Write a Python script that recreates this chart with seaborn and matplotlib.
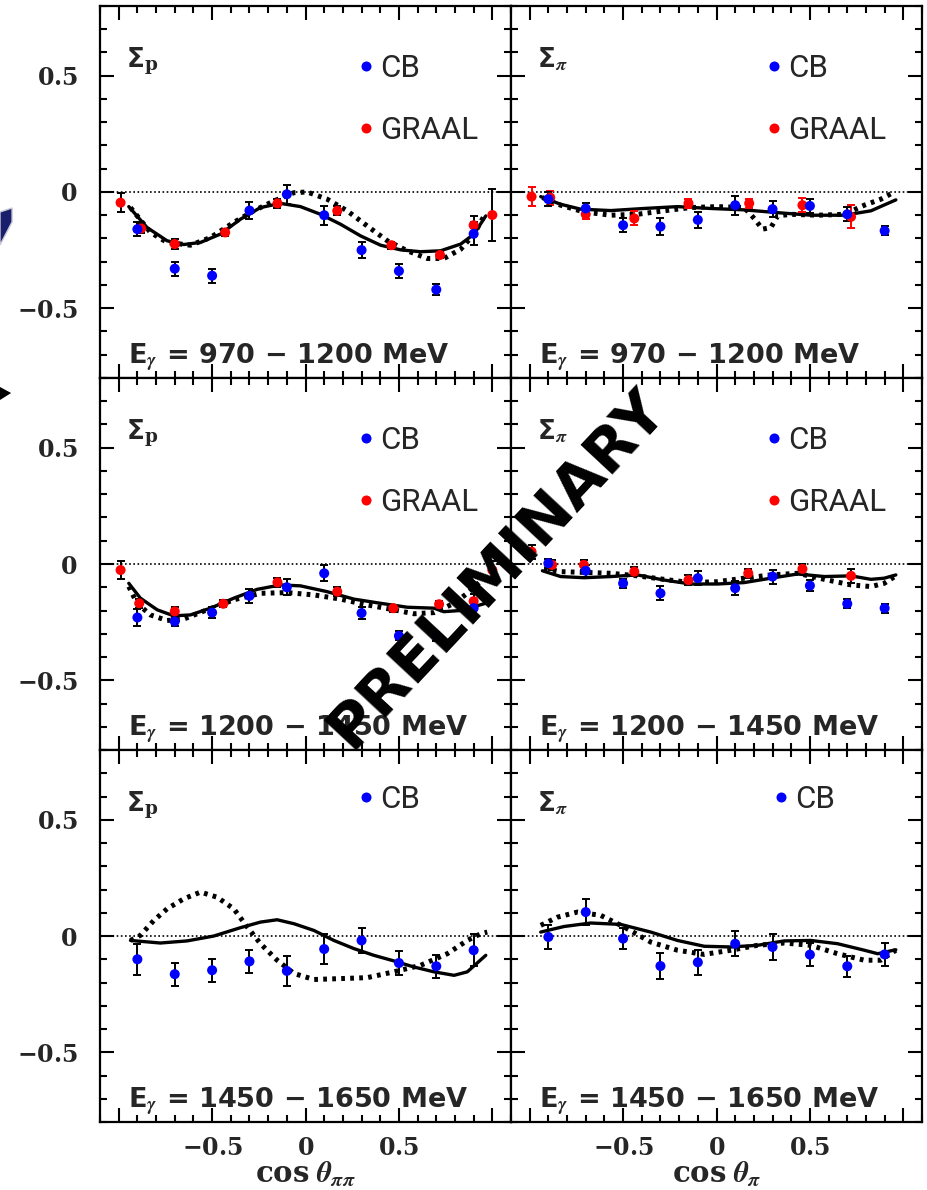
import numpy as np
import pandas as pd
import matplotlib
matplotlib.use("Agg")
import matplotlib.pyplot as plt
import seaborn as sns
from matplotlib.ticker import MultipleLocator, FuncFormatter
from matplotlib.patches import Polygon

# ---------------- data ----------------
cos_cb = [-0.9, -0.7, -0.5, -0.3, -0.1, 0.1, 0.3, 0.5, 0.7, 0.9]

# Row 1: E = 970 - 1200 MeV
sp1_cb = [-0.16, -0.33, -0.36, -0.08, -0.01, -0.10, -0.25, -0.34, -0.42, -0.18]
sp1_cb_err = [0.03, 0.03, 0.03, 0.035, 0.04, 0.04, 0.035, 0.03, 0.025, 0.05]
sp1_graal_x = [-0.99, -0.88, -0.70, -0.43, -0.15, 0.17, 0.46, 0.72, 0.90, 1.00]
sp1_graal = [-0.046, -0.157, -0.224, -0.174, -0.049, -0.081, -0.229, -0.271, -0.143, -0.099]
sp1_graal_err = [0.04, 0.02, 0.02, 0.015, 0.02, 0.02, 0.015, 0.015, 0.04, 0.11]
sp1_solid_x = [-0.946, -0.848, -0.741, -0.652, -0.562, -0.455, -0.348, -0.241, -0.134, -0.027,
               0.08, 0.188, 0.295, 0.402, 0.509, 0.616, 0.723, 0.831, 0.902, 0.965]
sp1_solid_y = [-0.063, -0.153, -0.21, -0.226, -0.217, -0.181, -0.117, -0.067, -0.049, -0.063,
               -0.096, -0.139, -0.189, -0.229, -0.249, -0.257, -0.253, -0.224, -0.181, -0.103]
sp1_dot_x = [-0.937, -0.83, -0.741, -0.616, -0.509, -0.384, -0.277, -0.17, -0.062, 0.009,
             0.116, 0.223, 0.33, 0.438, 0.545, 0.652, 0.741, 0.831, 0.902, 0.956]
sp1_dot_y = [-0.067, -0.174, -0.217, -0.229, -0.196, -0.131, -0.081, -0.039, -0.003, 0.0,
             -0.031, -0.081, -0.146, -0.21, -0.253, -0.286, -0.286, -0.246, -0.181, -0.103]

spi1_cb = [-0.031, -0.071, -0.143, -0.149, -0.12, -0.057, -0.074, -0.06, -0.096, -0.167]
spi1_cb_err = [0.03, 0.025, 0.03, 0.035, 0.035, 0.04, 0.035, 0.03, 0.03, 0.02]
spi1_graal_x = [-0.99, -0.89, -0.70, -0.44, -0.15, 0.175, 0.46, 0.72]
spi1_graal = [-0.02, -0.024, -0.096, -0.114, -0.049, -0.049, -0.057, -0.107]
spi1_graal_err = [0.04, 0.03, 0.02, 0.03, 0.02, 0.02, 0.03, 0.05]
spi1_solid_x = [-0.941, -0.834, -0.727, -0.566, -0.388, -0.209, -0.031, 0.148, 0.327, 0.505,
                0.684, 0.827, 0.96]
spi1_solid_y = [-0.02, -0.053, -0.074, -0.08, -0.071, -0.063, -0.071, -0.077, -0.089, -0.1,
                -0.1, -0.081, -0.034]
spi1_dot_x = [-0.932, -0.834, -0.709, -0.566, -0.423, -0.281, -0.138, 0.005, 0.148, 0.202,
              0.246, 0.291, 0.327, 0.398, 0.541, 0.684, 0.791, 0.88, 0.952]
spi1_dot_y = [-0.024, -0.057, -0.086, -0.1, -0.096, -0.081, -0.067, -0.063, -0.067, -0.114,
              -0.16, -0.153, -0.103, -0.096, -0.1, -0.096, -0.057, -0.031, 0.0]

# Row 2: E = 1200 - 1450 MeV
sp2_cb = [-0.23, -0.247, -0.209, -0.137, -0.10, -0.04, -0.211, -0.309, -0.311, -0.19]
sp2_cb_err = [0.035, 0.02, 0.025, 0.03, 0.035, 0.035, 0.025, 0.02, 0.02, 0.03]
sp2_graal_x = [-0.99, -0.89, -0.70, -0.44, -0.15, 0.17, 0.47, 0.715, 0.90, 1.00]
sp2_graal = [-0.026, -0.169, -0.204, -0.171, -0.079, -0.119, -0.19, -0.173, -0.16, -0.026]
sp2_graal_err = [0.04, 0.02, 0.02, 0.015, 0.02, 0.02, 0.015, 0.015, 0.03, 0.04]
sp2_solid_x = [-0.946, -0.884, -0.794, -0.705, -0.616, -0.509, -0.384, -0.259, -0.134, -0.027,
               0.116, 0.259, 0.402, 0.545, 0.688, 0.74, 0.83, 0.96]
sp2_solid_y = [-0.083, -0.147, -0.197, -0.223, -0.219, -0.19, -0.147, -0.109, -0.09, -0.094,
               -0.119, -0.151, -0.169, -0.186, -0.19, -0.205, -0.2, -0.17]
sp2_dot_x = [-0.946, -0.902, -0.83, -0.741, -0.652, -0.527, -0.384, -0.241, -0.098, 0.045,
             0.188, 0.33, 0.473, 0.58, 0.688, 0.795, 0.866, 0.955]
sp2_dot_y = [-0.097, -0.169, -0.219, -0.243, -0.237, -0.197, -0.154, -0.126, -0.123, -0.133,
             -0.151, -0.176, -0.197, -0.214, -0.209, -0.169, -0.126, -0.061]

spi2_cb = [0.003, -0.029, -0.083, -0.126, -0.061, -0.104, -0.054, -0.093, -0.171, -0.19]
spi2_cb_err = [0.02, 0.025, 0.02, 0.03, 0.03, 0.03, 0.03, 0.025, 0.02, 0.02]
spi2_graal_x = [-0.99, -0.88, -0.71, -0.44, -0.15, 0.17, 0.46, 0.72]
spi2_graal = [0.053, -0.004, -0.004, -0.033, -0.069, -0.04, -0.021, -0.051]
spi2_graal_err = [0.03, 0.02, 0.02, 0.02, 0.02, 0.02, 0.02, 0.03]
spi2_solid_x = [-0.932, -0.834, -0.709, -0.566, -0.423, -0.281, -0.138, 0.005, 0.148, 0.291,
                0.434, 0.577, 0.72, 0.827, 0.898, 0.96]
spi2_solid_y = [-0.029, -0.054, -0.059, -0.054, -0.047, -0.069, -0.086, -0.086, -0.08, -0.061,
                -0.043, -0.054, -0.051, -0.066, -0.061, -0.047]
spi2_dot_x = [-0.923, -0.834, -0.709, -0.566, -0.423, -0.281, -0.138, 0.005, 0.148, 0.291,
              0.434, 0.577, 0.72, 0.827, 0.898, 0.96]
spi2_dot_y = [-0.019, -0.033, -0.036, -0.04, -0.051, -0.066, -0.08, -0.076, -0.061, -0.047,
              -0.04, -0.066, -0.09, -0.097, -0.083, -0.051]

# Row 3: E = 1450 - 1650 MeV (CB only)
sp3_cb = [-0.10, -0.164, -0.147, -0.109, -0.15, -0.056, -0.019, -0.116, -0.13, -0.061]
sp3_cb_err = [0.066, 0.05, 0.05, 0.05, 0.065, 0.065, 0.055, 0.05, 0.05, 0.07]
sp3_solid_x = [-0.937, -0.777, -0.634, -0.491, -0.348, -0.241, -0.152, -0.062, 0.045, 0.152,
               0.259, 0.366, 0.473, 0.58, 0.688, 0.795, 0.866, 0.965]
sp3_solid_y = [-0.019, -0.03, -0.021, 0.0, 0.036, 0.06, 0.07, 0.053, 0.024, -0.019,
               -0.054, -0.083, -0.107, -0.133, -0.154, -0.169, -0.154, -0.083]
sp3_dot_x = [-0.937, -0.884, -0.812, -0.741, -0.652, -0.562, -0.473, -0.384, -0.312, -0.241,
             -0.152, -0.062, 0.045, 0.188, 0.33, 0.473, 0.616, 0.759, 0.866, 0.938, 0.973]
sp3_dot_y = [-0.019, 0.003, 0.067, 0.117, 0.16, 0.189, 0.167, 0.117, 0.039, -0.033,
             -0.104, -0.161, -0.187, -0.183, -0.179, -0.154, -0.126, -0.076, -0.019, 0.01, 0.017]

spi3_cb = [-0.004, 0.103, -0.011, -0.129, -0.113, -0.033, -0.047, -0.08, -0.13, -0.079]
spi3_cb_err = [0.05, 0.055, 0.045, 0.055, 0.055, 0.055, 0.055, 0.05, 0.045, 0.05]
spi3_solid_x = [-0.941, -0.816, -0.673, -0.513, -0.352, -0.209, -0.066, 0.077, 0.219, 0.362,
                0.505, 0.648, 0.791, 0.863, 0.96]
spi3_solid_y = [0.017, 0.041, 0.056, 0.05, 0.017, -0.019, -0.044, -0.047, -0.04, -0.021,
                -0.019, -0.033, -0.061, -0.076, -0.059]
spi3_dot_x = [-0.941, -0.852, -0.745, -0.62, -0.495, -0.352, -0.209, -0.066, 0.077, 0.219,
              0.362, 0.505, 0.648, 0.791, 0.88, 0.96]
spi3_dot_y = [0.046, 0.081, 0.103, 0.089, 0.039, -0.026, -0.061, -0.079, -0.061, -0.04,
              -0.03, -0.04, -0.076, -0.104, -0.104, -0.061]

energy_labels = ["970 \u2212 1200", "1200 \u2212 1450", "1450 \u2212 1650"]
observable_labels = ["\u03a3$_\\mathbf{p}$", "\u03a3$_\\pi$"]
xlabels = [r"$\mathbf{cos}\ \theta_{\pi\pi}$", r"$\mathbf{cos}\ \theta_{\pi}$"]
sources = ["CB", "GRAAL"]

panels = [
    [dict(cb=sp1_cb, cbe=sp1_cb_err, gx=sp1_graal_x, g=sp1_graal, ge=sp1_graal_err,
          sx=sp1_solid_x, sy=sp1_solid_y, dx=sp1_dot_x, dy=sp1_dot_y, gcol="black"),
     dict(cb=spi1_cb, cbe=spi1_cb_err, gx=spi1_graal_x, g=spi1_graal, ge=spi1_graal_err,
          sx=spi1_solid_x, sy=spi1_solid_y, dx=spi1_dot_x, dy=spi1_dot_y, gcol="red")],
    [dict(cb=sp2_cb, cbe=sp2_cb_err, gx=sp2_graal_x, g=sp2_graal, ge=sp2_graal_err,
          sx=sp2_solid_x, sy=sp2_solid_y, dx=sp2_dot_x, dy=sp2_dot_y, gcol="black"),
     dict(cb=spi2_cb, cbe=spi2_cb_err, gx=spi2_graal_x, g=spi2_graal, ge=spi2_graal_err,
          sx=spi2_solid_x, sy=spi2_solid_y, dx=spi2_dot_x, dy=spi2_dot_y, gcol="black")],
    [dict(cb=sp3_cb, cbe=sp3_cb_err, gx=None, g=None, ge=None,
          sx=sp3_solid_x, sy=sp3_solid_y, dx=sp3_dot_x, dy=sp3_dot_y, gcol="black"),
     dict(cb=spi3_cb, cbe=spi3_cb_err, gx=None, g=None, ge=None,
          sx=spi3_solid_x, sy=spi3_solid_y, dx=spi3_dot_x, dy=spi3_dot_y, gcol="black")],
]

# ---------------- style ----------------
sns.set_theme(style="white")
plt.rcParams["font.family"] = ["DejaVu Sans"]
plt.rcParams["mathtext.fontset"] = "custom"
plt.rcParams["mathtext.rm"] = "DejaVu Serif"
plt.rcParams["mathtext.bf"] = "DejaVu Serif:bold"
plt.rcParams["mathtext.it"] = "STIXGeneral:italic:bold"
palette = {"CB": "#0000ff", "GRAAL": "#ff0000"}

fig, axes = plt.subplots(3, 2, figsize=(9.27, 11.9), dpi=100, sharex=True, sharey=True)
fig.subplots_adjust(left=0.1079, right=0.9946, top=0.995, bottom=0.0571, wspace=0, hspace=0)


def tick_fmt(v, pos):
    if abs(v) > 0.95:
        return ""
    return r"$\mathbf{%s}$" % ("%g" % round(v, 2))


fmt = FuncFormatter(tick_fmt)
leg_pos = {(0, 0): (0.631, 0.87), (0, 1): (0.625, 0.87),
           (1, 0): (0.631, 0.87), (1, 1): (0.625, 0.87),
           (2, 0): (0.631, 0.905), (2, 1): (0.642, 0.905)}

for r in range(3):
    for c in range(2):
        ax = axes[r, c]
        p = panels[r][c]
        ax.axhline(0, color="black", lw=1.2, ls=(0, (1, 1.5)), zorder=1)
        # model curves
        sns.lineplot(x=p["sx"], y=p["sy"], ax=ax, color="black", lw=2.4,
                     sort=False, estimator=None, zorder=3)
        sns.lineplot(x=p["dx"], y=p["dy"], ax=ax, color="black", lw=3.6,
                     sort=False, estimator=None, zorder=3)
        ax.lines[-1].set_linestyle((0, (0.75, 1.05)))
        ax.lines[-1].set_dash_capstyle("butt")
        # data
        frames = [pd.DataFrame({"x": cos_cb, "y": p["cb"], "e": p["cbe"], "src": "CB"})]
        if p["gx"] is not None:
            frames.insert(0, pd.DataFrame({"x": p["gx"], "y": p["g"], "e": p["ge"], "src": "GRAAL"}))
        for df in frames:
            col = "black" if df["src"].iloc[0] == "CB" else p["gcol"]
            ax.errorbar(df["x"], df["y"], yerr=df["e"], fmt="none", ecolor=col,
                        elinewidth=1.4, capsize=3, capthick=1.4, zorder=4)
        data = pd.concat(frames, ignore_index=True)
        present = [s for s in sources if s in set(data["src"])]
        sns.scatterplot(data=data, x="x", y="y", hue="src", hue_order=present,
                        palette=palette, s=52, edgecolor="none", ax=ax, zorder=5)
        h, l = ax.get_legend_handles_labels()
        lx, ly = leg_pos[(r, c)]
        ax.legend(h, l, loc="upper left", bbox_to_anchor=(lx, ly),
                  frameon=False, handlelength=0.4, handletextpad=0.25,
                  labelspacing=1.05, borderpad=0, borderaxespad=0,
                  prop={"family": "Roboto", "size": 22.5})
        # labels inside
        ax.text(0.063, 0.892, observable_labels[c], transform=ax.transAxes, fontsize=19,
                fontweight="bold", va="top", ha="left")
        ax.text(0.068, 0.013, "E$_\\gamma$ = " + energy_labels[r] + " MeV", transform=ax.transAxes,
                fontsize=19.5, fontweight="bold", va="bottom", ha="left")
        # axes
        ax.set_xlim(-1.1, 1.1)
        ax.set_ylim(-0.8, 0.8)
        ax.xaxis.set_major_locator(MultipleLocator(0.5))
        ax.xaxis.set_minor_locator(MultipleLocator(0.1))
        ax.yaxis.set_major_locator(MultipleLocator(0.5))
        ax.yaxis.set_minor_locator(MultipleLocator(0.1))
        ax.xaxis.set_major_formatter(fmt)
        ax.yaxis.set_major_formatter(fmt)
        ax.tick_params(which="both", direction="in", top=True, right=True, bottom=True, left=True,
                       width=1.5, color="black")
        ax.tick_params(which="major", length=10)
        ax.tick_params(which="minor", length=5)
        ax.tick_params(axis="y", labelsize=17, pad=16)
        ax.tick_params(axis="x", labelsize=17, pad=10)
        for s in ax.spines.values():
            s.set_linewidth(1.6)
            s.set_color("black")
        ax.set_ylabel("")
        ax.set_xlabel(xlabels[c] if r == 2 else "", fontsize=21, labelpad=0)

# watermark
fig.text(0.537, 0.522, "PRELIMINARY", rotation=47, fontsize=44, fontweight="heavy",
         ha="center", va="center", rotation_mode="anchor", color="black", zorder=10)

# fragments of the neighbouring slide at the left edge
fig.patches.append(Polygon([[0.0, 1 - 245 / 1190], [0.0, 1 - 212 / 1190], [0.013, 1 - 208 / 1190],
                            [0.013, 1 - 222 / 1190]], closed=True, transform=fig.transFigure,
                           facecolor="#1a1f6b", edgecolor="#c8c8d8", lw=1))
fig.patches.append(Polygon([[0.0, 1 - 387 / 1190], [0.0, 1 - 400 / 1190], [0.012, 1 - 393 / 1190]],
                           closed=True, transform=fig.transFigure, facecolor="black", edgecolor="none"))

fig.savefig("out.png", dpi=100)
